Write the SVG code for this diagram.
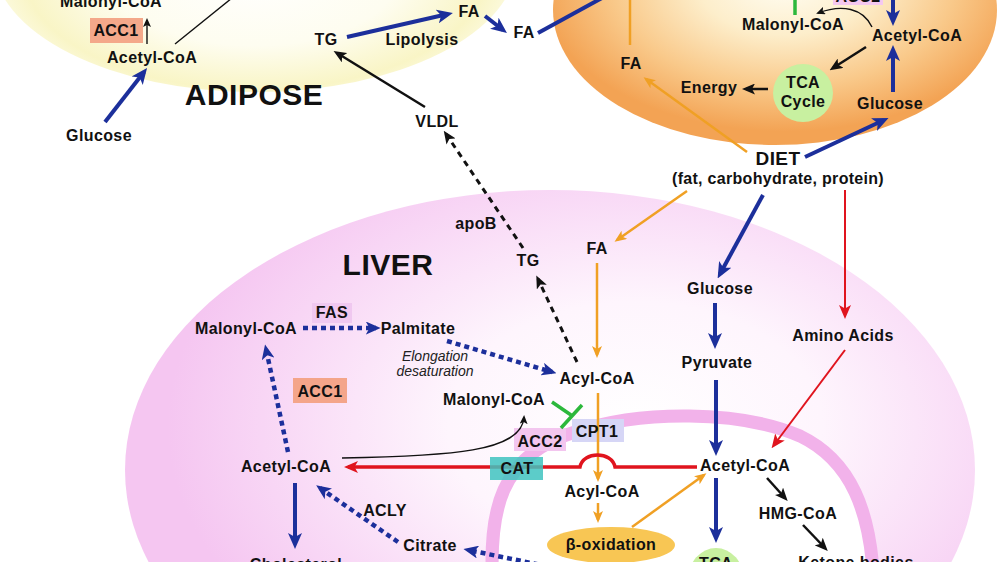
<svg xmlns="http://www.w3.org/2000/svg" width="1000" height="562" viewBox="0 0 1000 562">
<defs>
<radialGradient id="gY" cx="0.5" cy="0.55" r="0.5">
<stop offset="0" stop-color="#ffffff"/>
<stop offset="0.55" stop-color="#fefdf0"/>
<stop offset="0.88" stop-color="#f9f5c6"/>
<stop offset="1" stop-color="#fcfadf"/>
</radialGradient>
<radialGradient id="gO" cx="0.52" cy="0.4" r="0.55">
<stop offset="0" stop-color="#fffdf3"/>
<stop offset="0.35" stop-color="#fdeecb"/>
<stop offset="0.7" stop-color="#f9c98a"/>
<stop offset="1" stop-color="#f3a354"/>
</radialGradient>
<radialGradient id="gP" cx="0.6" cy="0.42" r="0.55">
<stop offset="0" stop-color="#ffffff"/>
<stop offset="0.4" stop-color="#fef5fd"/>
<stop offset="1" stop-color="#f5c6f1"/>
</radialGradient>
<marker id="mb" viewBox="0 0 16 14" refX="11" refY="7" markerWidth="16" markerHeight="14" orient="auto" markerUnits="userSpaceOnUse"><path d="M0,0 L16,7 L0,14 L4,7 z" fill="#1c2f9b"/></marker>
<marker id="mbd" viewBox="0 0 16 14" refX="11" refY="7" markerWidth="15" markerHeight="13" orient="auto" markerUnits="userSpaceOnUse"><path d="M0,0 L16,7 L0,14 L4,7 z" fill="#1c2f9b"/></marker>
<marker id="mo" viewBox="0 0 12 10" refX="9" refY="5" markerWidth="12" markerHeight="10" orient="auto" markerUnits="userSpaceOnUse"><path d="M0,0 L12,5 L0,10 L3,5 z" fill="#f0a024"/></marker>
<marker id="mr" viewBox="0 0 14 12" refX="10" refY="6" markerWidth="14" markerHeight="12" orient="auto" markerUnits="userSpaceOnUse"><path d="M0,0 L14,6 L0,12 L3.5,6 z" fill="#e0141e"/></marker>
<marker id="mk" viewBox="0 0 13 11" refX="9" refY="5.5" markerWidth="13" markerHeight="11" orient="auto" markerUnits="userSpaceOnUse"><path d="M0,0 L13,5.5 L0,11 L3,5.5 z" fill="#111"/></marker>
<marker id="mkt" viewBox="0 0 9 8" refX="7" refY="4" markerWidth="9" markerHeight="8" orient="auto" markerUnits="userSpaceOnUse"><path d="M0,0 L9,4 L0,8 L2,4 z" fill="#111"/></marker>
</defs>
<style>
text{font-family:"Liberation Sans",Arial,Helvetica,sans-serif;font-weight:bold;font-size:16px;fill:#111;text-anchor:middle;letter-spacing:0.4px}
.big{font-size:30px;letter-spacing:0.5px}
.diet{font-size:19px}
.it{font-style:italic;font-weight:normal;font-size:14px;fill:#222;letter-spacing:0}
.b{stroke:#1c2f9b;stroke-width:4;fill:none;marker-end:url(#mb)}
.bd{stroke:#1c2f9b;stroke-width:4.5;fill:none;stroke-dasharray:5 4;marker-end:url(#mbd)}
.o{stroke:#f0a024;stroke-width:2.5;fill:none;marker-end:url(#mo)}
.r{stroke:#e0141e;stroke-width:2;fill:none;marker-end:url(#mr)}
.k{stroke:#111;stroke-width:2.5;fill:none;marker-end:url(#mk)}
.kd{stroke:#111;stroke-width:3;fill:none;stroke-dasharray:6 5;marker-end:url(#mk)}
.kt{stroke:#111;stroke-width:1.4;fill:none}
.g{stroke:#2cb83c;stroke-width:3.5;fill:none}
</style>
<rect x="0" y="0" width="1000" height="562" fill="#ffffff"/>
<g id="backgrounds">
<ellipse cx="255" cy="-40" rx="262" ry="132" fill="url(#gY)"/>
<ellipse cx="775" cy="10" rx="222" ry="135" fill="url(#gO)"/>
<ellipse cx="550" cy="470" rx="425" ry="280" fill="url(#gP)"/>
<path id="mito" d="M493 600 L493 590 C488 510,500 455,575 432 C640 410,740 410,800 436 C850 460,872 510,874 590 L874 600 Z" fill="#ffffff" stroke="#f2b2ea" stroke-width="13"/>
</g>
<g id="boxes">
<rect x="90" y="18" width="53" height="25" fill="#f4a88a"/>
<rect x="833" y="-20" width="50" height="25" fill="#f4c8f0"/>
<rect x="293" y="378" width="54" height="25" fill="#f4a58a"/>
<rect x="312" y="303" width="40" height="20" fill="#f0c8f0"/>
<rect x="572" y="419" width="52" height="23" fill="#d6d6f6"/>
<rect x="514" y="428" width="52" height="23" fill="#f3c6ef"/>
<ellipse cx="611" cy="545" rx="64" ry="18" fill="#f8c654"/>
<ellipse cx="803" cy="93" rx="30" ry="29" fill="#c8f0a0"/>
<ellipse cx="716" cy="580" rx="28" ry="32" fill="#c8f0a0"/>
</g>
<g id="connectors">
<line class="kt" x1="147" y1="44" x2="147" y2="20" marker-end="url(#mkt)"/>
<line class="kt" x1="175" y1="44" x2="232" y2="-2"/>
<line class="b" x1="105" y1="122" x2="144" y2="72"/>
<line class="b" x1="347" y1="37" x2="448" y2="14"/>
<line class="b" x1="485" y1="16" x2="503" y2="30"/>
<line stroke="#1c2f9b" stroke-width="4" x1="538" y1="33" x2="622" y2="-13"/>
<line class="k" x1="425" y1="107" x2="337" y2="53"/>
<line class="kd" x1="523" y1="248" x2="446" y2="134"/>
<line class="kd" x1="577" y1="362" x2="538" y2="279"/>
<line stroke="#f0a024" stroke-width="2.5" x1="630" y1="45" x2="630" y2="-10"/>
<line class="g" x1="795" y1="15" x2="795" y2="-10"/>
<line class="b" x1="893" y1="-10" x2="893" y2="21"/>
<path class="kt" d="M872 27 C863 8,842 4,818 13" marker-end="url(#mkt)"/>
<line class="k" x1="866" y1="47" x2="833" y2="68"/>
<line class="b" x1="893" y1="92" x2="893" y2="50"/>
<line class="k" x1="768" y1="89" x2="746" y2="89"/>
<line class="o" x1="747" y1="152" x2="646" y2="79"/>
<line class="b" x1="805" y1="157" x2="884" y2="120"/>
<line class="o" x1="687" y1="191" x2="617" y2="240"/>
<line class="b" x1="763" y1="195" x2="720" y2="274"/>
<line class="r" x1="845" y1="190" x2="845" y2="315"/>
<line class="o" x1="597" y1="263" x2="597" y2="355"/>
<line class="b" x1="715" y1="303" x2="715" y2="344"/>
<line class="b" x1="716" y1="380" x2="716" y2="451"/>
<line class="r" x1="845" y1="350" x2="774" y2="445"/>
<line class="k" x1="767" y1="478" x2="785" y2="498"/>
<line class="k" x1="803" y1="525" x2="825" y2="548"/>
<line class="b" x1="716" y1="478" x2="716" y2="538"/>
<line class="o" x1="632" y1="527" x2="704" y2="475"/>
<line class="o" x1="598" y1="503" x2="598" y2="520"/>
<line class="o" x1="598" y1="393" x2="598" y2="479"/>
<path class="g" d="M552 402 L571 415 M561 428 L582 405"/>
<path class="kt" d="M342 458 C450 456,522 452,524 417" marker-end="url(#mkt)"/>
<path d="M697 467 L615 467 C612 451,583 451,580 467 L348 467" fill="none" stroke="#e0141e" stroke-width="3.5" marker-end="url(#mr)"/>
<line class="b" x1="295" y1="483" x2="295" y2="544"/>
<line class="bd" x1="288" y1="452" x2="266" y2="349"/>
<line class="bd" x1="303" y1="328" x2="376" y2="328"/>
<line class="bd" x1="447" y1="341" x2="552" y2="372"/>
<line class="bd" x1="398" y1="542" x2="320" y2="488"/>
<line class="bd" x1="556" y1="568" x2="468" y2="550"/>
</g>
<rect x="490" y="457" width="53" height="23" fill="#3fc3c0" opacity="0.85"/>
<g id="adipose">
<text x="111" y="7">Malonyl-CoA</text>
<text x="116" y="36">ACC1</text>
<text x="152" y="63">Acetyl-CoA</text>
<text x="99" y="141">Glucose</text>
<text class="big" x="254" y="105">ADIPOSE</text>
<text x="326" y="45">TG</text>
<text x="469" y="17">FA</text>
<text x="422" y="45">Lipolysis</text>
<text x="524" y="38">FA</text>
<text x="437" y="127">VLDL</text>
</g>
<g id="muscle">
<text x="858" y="2">ACC2</text>
<text x="631" y="69">FA</text>
<text x="793" y="30">Malonyl-CoA</text>
<text x="917" y="41">Acetyl-CoA</text>
<text x="890" y="109">Glucose</text>
<text x="803" y="88">TCA</text>
<text x="803" y="107">Cycle</text>
<text x="709" y="93">Energy</text>
</g>
<g id="diet">
<text class="diet" x="778" y="165">DIET</text>
<text x="778" y="184" style="letter-spacing:0.3px">(fat, carbohydrate, protein)</text>
</g>
<g id="liver">
<text x="476" y="229">apoB</text>
<text x="528" y="266">TG</text>
<text class="big" x="388" y="275">LIVER</text>
<text x="597" y="254">FA</text>
<text x="720" y="294">Glucose</text>
<text x="717" y="368">Pyruvate</text>
<text x="843" y="341">Amino Acids</text>
<text x="246" y="334">Malonyl-CoA</text>
<text x="332" y="318">FAS</text>
<text x="418" y="334">Palmitate</text>
<text class="it" x="435" y="361">Elongation</text>
<text class="it" x="435" y="376">desaturation</text>
<text x="597" y="384">Acyl-CoA</text>
<text x="320" y="397">ACC1</text>
<text x="494" y="405">Malonyl-CoA</text>
<text x="597" y="437">CPT1</text>
<text x="540" y="447">ACC2</text>
<text x="286" y="472">Acetyl-CoA</text>
<text x="517" y="474">CAT</text>
<text x="745" y="471">Acetyl-CoA</text>
<text x="602" y="497">Acyl-CoA</text>
<text x="385" y="516">ACLY</text>
<text x="798" y="519">HMG-CoA</text>
<text x="611" y="550">β-oxidation</text>
<text x="430" y="551">Citrate</text>
<text x="296" y="570">Cholesterol</text>
<text x="716" y="569">TCA</text>
<text x="856" y="568">Ketone bodies</text>
</g>
</svg>
